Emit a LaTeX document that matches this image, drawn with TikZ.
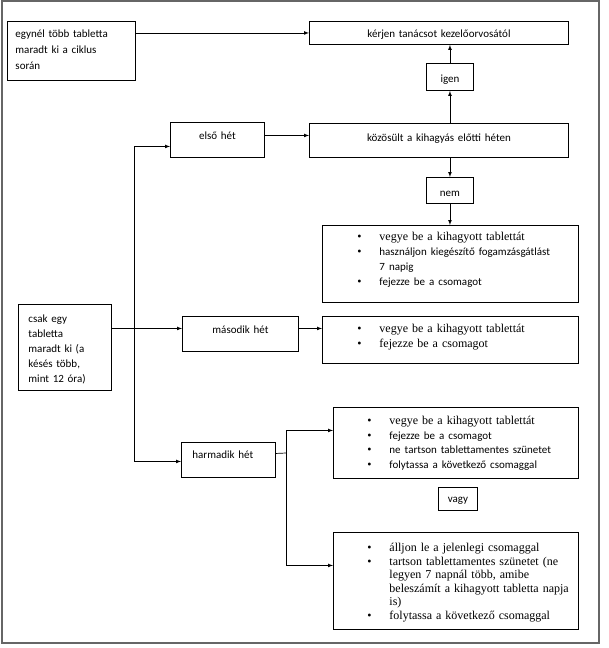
\documentclass[tikz,border=0pt]{standalone}
\usepackage{fontspec}
\setmainfont{Liberation Serif}
\newfontfamily\tnr{Liberation Serif}
\newfontfamily\calib{Carlito}
\newcommand{\pont}[1]{\leavevmode\llap{\makebox[22pt][l]{\textbullet}}#1\par}
\newcommand{\tsans}[1]{{\calib\fontsize{11}{14}\selectfont #1}}

\begin{document}
\begin{tikzpicture}[x=1pt,y=-1pt,>=latex,
  doboz/.style={draw,line width=0.9pt,anchor=north west,inner xsep=0pt,inner ysep=0pt,
    align=center,font=\calib\fontsize{11}{16}\selectfont},
  lista/.style={draw,line width=0.9pt,anchor=north west,inner sep=0pt},
  nyil/.style={->,line width=0.7pt}]
\useasboundingbox (0,0) rectangle (608,648);
\draw[black!60,line width=1.2pt] (2,1) rectangle (599,643);
% dobozok
\node[doboz,text width=112pt,inner xsep=8pt,align=left,text height=16pt,text depth=43pt] (tobb) at (7,21) {egynél több tabletta\\maradt ki a ciklus\\során};
\node[doboz,text width=259pt,text height=16pt,text depth=7pt] (orvos) at (309,21) {kérjen tanácsot kezelőorvosától};
\node[doboz,text width=47pt,text height=19pt,text depth=8pt] (igen) at (426,63) {igen};
\node[doboz,text width=94pt,text height=17pt,text depth=18pt] (elso) at (170,122) {első hét};
\node[doboz,text width=259pt,text height=18pt,text depth=16pt] (kozos) at (309,123) {közösült a kihagyás előtti héten};
\node[doboz,text width=47pt,text height=19pt,text depth=7pt] (nem) at (426,177) {nem};
\node[lista,text width=256pt,text height=15pt,text depth=62pt,font=\tnr\fontsize{12}{15}\selectfont] (lista1) at (322,225)
  {\leftskip=57pt
   \pont{vegye be a kihagyott tablettát}
   \pont{\tsans{használjon kiegészítő fogamzásgátlást\newline 7 napig}}
   \pont{\tsans{fejezze be a csomagot}}};
\node[doboz,text width=73pt,inner xsep=10pt,align=left,font=\calib\fontsize{11}{15}\selectfont,text height=18pt,text depth=68pt] (egy) at (18,304) {csak egy\\tabletta\\maradt ki (a\\késés több,\\mint 12 óra)};
\node[doboz,text width=116pt,text height=17pt,text depth=18pt] (masod) at (182,316) {második hét};
\node[lista,text width=256pt,text height=16pt,text depth=31pt,font=\tnr\fontsize{12}{15}\selectfont] (lista2) at (322,316)
  {\leftskip=57pt
   \pont{vegye be a kihagyott tablettát}
   \pont{fejezze be a csomagot}};
\node[lista,text width=245pt,text height=17pt,text depth=54pt,font=\tnr\fontsize{12}{14.6}\selectfont] (lista3) at (333,407)
  {\leftskip=56pt
   \pont{vegye be a kihagyott tablettát}
   \pont{\tsans{fejezze be a csomagot}}
   \pont{\tsans{ne tartson tablettamentes szünetet}}
   \pont{\tsans{folytassa a következő csomaggal}}};
\node[doboz,text width=72pt,inner xsep=11pt,align=left,text height=16pt,text depth=19pt] (harm) at (181,442) {harmadik hét};
\node[doboz,text width=39pt,text height=15pt,text depth=8pt] (vagy) at (438,487) {vagy};
\node[lista,text width=245pt,text height=19pt,text depth=78pt,font=\tnr\fontsize{12}{13.6}\selectfont] (lista4) at (333,532)
  {\leftskip=56pt
   \pont{álljon le a jelenlegi csomaggal}
   \pont{tartson tablettamentes szünetet (ne\newline legyen 7 napnál több, amibe\newline beleszámít a kihagyott tabletta napja\newline is)}
   \pont{folytassa a következő csomaggal}};
% nyilak
\draw[nyil] (tobb.east |- orvos.west) -- (orvos.west);
\draw[nyil] (igen.south |- kozos.north) -- (igen.south);
\draw[nyil] (igen.north) -- (igen.north |- orvos.south);
\draw[nyil] (nem.north |- kozos.south) -- (nem.north);
\draw[nyil] (nem.south) -- (nem.south |- lista1.north);
\draw[nyil] ([yshift=4.5pt]elso.east) -- ([yshift=4.5pt]elso.east -| kozos.west);
\coordinate (torzs) at (134,328);
\draw[nyil] ([yshift=5.5pt]masod.west -| egy.east) -- ([yshift=5.5pt]masod.west);
\draw[nyil] (torzs) |- ([yshift=-6.5pt]elso.west);
\draw[nyil] (torzs) |- ([yshift=-1.5pt]harm.west);
\draw[nyil] ([yshift=5.5pt]masod.east) -- ([yshift=5.5pt]masod.east -| lista2.west);
\coordinate (elag) at (286,453);
\draw[line width=0.7pt] ([yshift=6.5pt]harm.east) -- (elag);
\draw[nyil] (elag) |- ([yshift=12.5pt]lista3.west);
\draw[nyil] (elag) |- ([yshift=15.5pt]lista4.west);
\end{tikzpicture}
\end{document}
